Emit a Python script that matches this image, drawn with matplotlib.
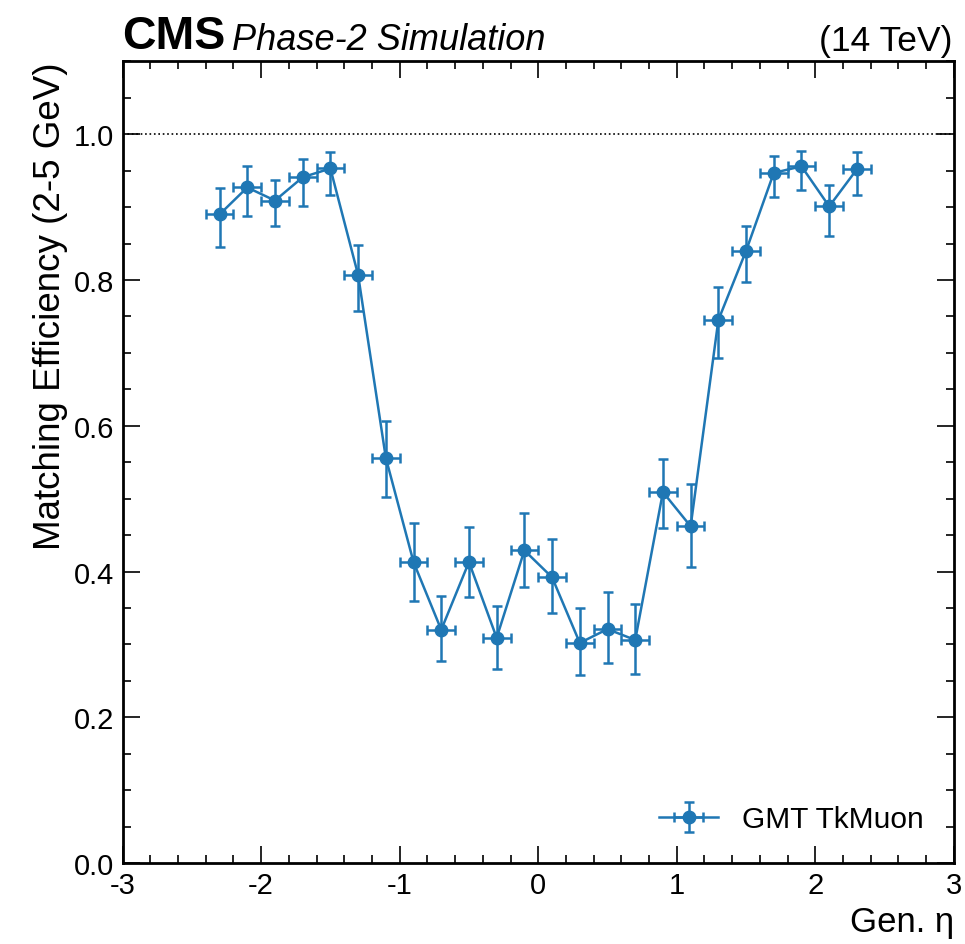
import matplotlib
matplotlib.use("Agg")
import matplotlib.pyplot as plt
from matplotlib.ticker import MultipleLocator
import numpy as np

plt.rcParams['font.family'] = ['Liberation Sans', 'DejaVu Sans']
plt.rcParams['axes.unicode_minus'] = False

eta_centers = [-2.3, -2.1, -1.9, -1.7, -1.5, -1.3, -1.1, -0.9, -0.7, -0.5, -0.3, -0.1,
               0.1, 0.3, 0.5, 0.7, 0.9, 1.1, 1.3, 1.5, 1.7, 1.9, 2.1, 2.3]
eta_halfwidth = 0.1
efficiency = [0.890, 0.927, 0.909, 0.941, 0.953, 0.807, 0.556, 0.413, 0.320, 0.413, 0.309, 0.429,
              0.392, 0.302, 0.321, 0.306, 0.509, 0.462, 0.745, 0.840, 0.947, 0.956, 0.901, 0.952]
eff_upper = [0.926, 0.956, 0.937, 0.966, 0.975, 0.848, 0.606, 0.466, 0.366, 0.461, 0.353, 0.480,
             0.444, 0.350, 0.372, 0.355, 0.554, 0.520, 0.791, 0.874, 0.970, 0.977, 0.931, 0.975]
eff_lower = [0.845, 0.888, 0.874, 0.901, 0.916, 0.757, 0.502, 0.359, 0.277, 0.365, 0.266, 0.379,
             0.343, 0.258, 0.274, 0.259, 0.460, 0.406, 0.693, 0.797, 0.914, 0.924, 0.861, 0.916]

x = np.array(eta_centers)
y = np.array(efficiency)
yerr = np.array([y - np.array(eff_lower), np.array(eff_upper) - y])

fig = plt.figure(figsize=(9.65, 9.45), dpi=100)
ax = fig.add_axes([0.127, 0.0857, 0.8615, 0.8483])

color = '#1f77b4'
ax.errorbar(x, y, xerr=eta_halfwidth, yerr=yerr, fmt='o-', color=color,
            markersize=9, linewidth=1.8, elinewidth=1.8, capsize=3.5, capthick=1.8,
            label='GMT TkMuon')
ax.axhline(1.0, color='black', linestyle=':', linewidth=1.2)

ax.set_xlim(-3, 3)
ax.set_ylim(0, 1.1)
ax.xaxis.set_major_locator(MultipleLocator(1))
ax.xaxis.set_minor_locator(MultipleLocator(0.2))
ax.yaxis.set_major_locator(MultipleLocator(0.2))
ax.yaxis.set_minor_locator(MultipleLocator(0.05))
ax.tick_params(which='both', direction='in', top=True, right=True, labelsize=21, width=1.2)
ax.tick_params(which='major', length=12, pad=6)
ax.tick_params(which='minor', length=6)
for s in ax.spines.values():
    s.set_linewidth(2)

ax.set_xlabel('Gen. η', fontsize=25, loc='right')
ax.set_ylabel('Matching Efficiency (2-5 GeV)', fontsize=26.5, loc='top')

ax.text(0.0, 1.004, 'CMS', transform=ax.transAxes, fontsize=33.5, fontweight='bold',
        ha='left', va='bottom')
ax.text(0.132, 1.006, 'Phase-2 Simulation', transform=ax.transAxes, fontsize=26,
        style='italic', ha='left', va='bottom')
ax.text(0.998, 1.006, '(14 TeV)', transform=ax.transAxes, fontsize=25.5,
        ha='right', va='bottom')

ax.legend(loc='lower right', frameon=False, fontsize=21.5, handlelength=2.0,
          borderaxespad=0.6)

fig.savefig('out.png', dpi=100)
